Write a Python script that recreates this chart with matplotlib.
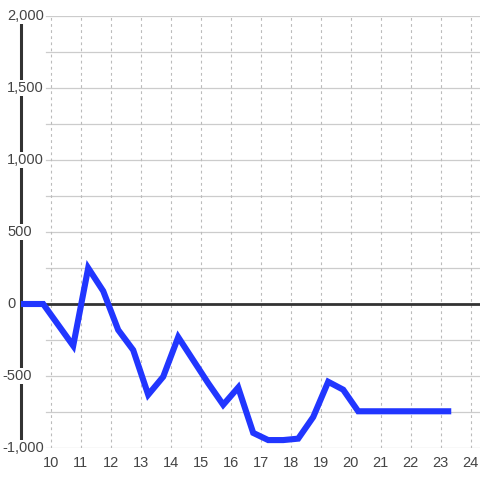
import matplotlib
matplotlib.use('Agg')
import matplotlib.pyplot as plt
import matplotlib.transforms as mtransforms

plt.rcParams['font.family'] = ['Liberation Sans', 'DejaVu Sans']

# series
x_vals = [9.0, 9.75, 10.75, 11.25, 11.75, 12.25, 12.75, 13.25, 13.75, 14.25,
          14.75, 15.25, 15.75, 16.25, 16.75, 17.25, 17.75, 18.25, 18.75,
          19.25, 19.75, 20.25, 23.25]
y_vals = [0, 0, -290, 250, 90, -180, -320, -630, -505, -230,
          -390, -550, -700, -580, -895, -945, -945, -935, -785,
          -540, -595, -745, -745]

x_ticks = list(range(10, 25))
y_grid = list(range(-1000, 2001, 250))
y_labels = [-1000, -500, 0, 500, 1000, 1500, 2000]

fig = plt.figure(figsize=(4.8, 4.8), dpi=100)
ax = fig.add_axes([20.7 / 480, 32 / 480, 459.3 / 480, 432 / 480])
ax.set_xlim(9.0, 24.31)
ax.set_ylim(-1000, 2000)

for sp in ['top', 'right', 'bottom']:
    ax.spines[sp].set_visible(False)
ax.spines['left'].set_color('#333333')
ax.spines['left'].set_linewidth(2.2)

# grid
for yv in y_grid:
    ax.axhline(yv, xmin=0.055, xmax=1, color='#cccccc', lw=0.9, zorder=1)
for xv in x_ticks:
    ax.axvline(xv, color='#bbbbbb', lw=0.8, ls=(0, (2.5, 3)), zorder=1)
ax.axhline(0, color='#333333', lw=2.0, zorder=1.5)

ax.plot(x_vals, y_vals, color='#2136ff', lw=4.4, solid_capstyle='projecting',
        solid_joinstyle='miter', zorder=4)

ax.set_xticks(x_ticks)
ax.set_xticklabels([str(t) for t in x_ticks])
ax.tick_params(axis='x', length=0, pad=6, labelsize=10.5, labelcolor='#444444')
ax.set_yticks([])

trans = mtransforms.blended_transform_factory(fig.transFigure, ax.transData)
for yv in y_labels:
    txt = '{:,}'.format(yv)
    xpos = 2 / 480 if yv < 0 else 7 / 480
    ax.text(xpos, yv, txt, transform=trans, ha='left', va='center',
            fontsize=10.5, color='#444444', zorder=3,
            bbox=dict(facecolor='white', edgecolor='none', pad=1.0))

fig.savefig('out.png', dpi=100)
